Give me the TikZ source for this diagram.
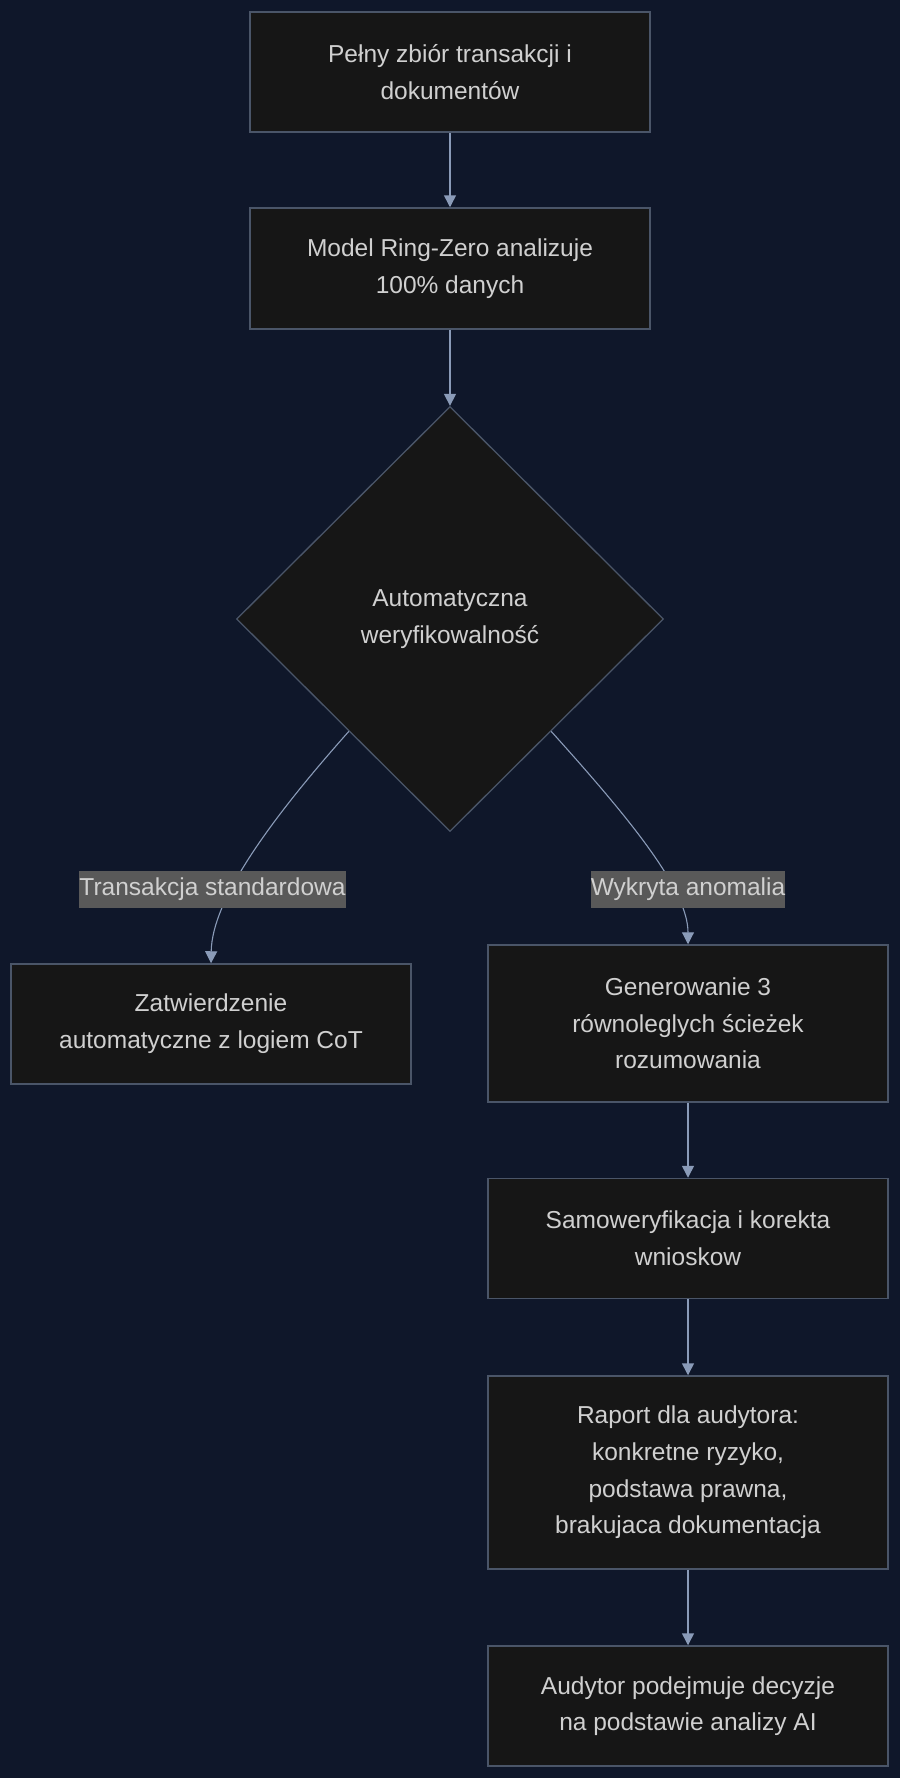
\documentclass[tikz,border=0pt]{standalone}
\usepackage{fontspec}
\setmainfont{Liberation Sans}
\usetikzlibrary{shapes.geometric}
\usetikzlibrary{arrows.meta}
\definecolor{bgnavy}{RGB}{15,23,42}
\definecolor{boxfill}{RGB}{22,22,22}
\definecolor{boxline}{RGB}{74,85,104}
\definecolor{txtgray}{RGB}{208,208,208}
\definecolor{arrowgray}{RGB}{138,155,184}
\definecolor{labelfill}{RGB}{89,89,89}

\begin{document}
\begin{tikzpicture}[x=1pt,y=-1pt,font=\fontsize{24.5}{36.7}\selectfont,
  box/.style={draw=boxline,fill=boxfill,line width=1.5pt,minimum width=400pt,inner sep=0pt,align=center,text=txtgray},
  decision/.style={diamond,draw=boxline,fill=boxfill,line width=1.3pt,minimum width=427pt,minimum height=425pt,inner sep=0pt,align=center,text=txtgray},
  edgelabel/.style={fill=labelfill,text=txtgray,inner sep=0pt,minimum height=37pt},
  flow/.style={draw=arrowgray,line width=1.5pt,-{Triangle[length=12pt,width=12pt]}}]
\fill [bgnavy] (0,0) rectangle (900,1778);

\node [box,minimum height=120pt] (full) at (450,72) {Pełny zbiór transakcji i\\dokumentów};
\node [box,minimum height=121pt] (model) at (450,268.5) {Model Ring-Zero analizuje\\100\% danych};
\node [decision] (dec) at (450,619) {Automatyczna\\weryfikowalność};
\node [box,minimum height=120pt] (okbox) at (211,1024) {Zatwierdzenie\\automatyczne z logiem CoT};
\node [box,minimum height=157pt] (gen) at (688,1023.5) {Generowanie 3\\równoleglych ścieżek\\rozumowania};
\node [box,minimum height=120pt] (selfchk) at (688,1238.5) {Samoweryfikacja i korekta\\wnioskow};
\node [box,minimum height=193pt] (report) at (688,1472.5) {Raport dla audytora:\\konkretne ryzyko,\\podstawa prawna,\\brakujaca dokumentacja};
\node [box,minimum height=120pt] (decide) at (688,1706) {Audytor podejmuje decyzje\\na podstawie analizy AI};

\draw [flow] (full) -- (model);
\draw [flow] (model) -- (dec);
\draw [flow,line width=1.1pt] (dec.228) .. controls (270,820) and (212,900) .. (okbox.north);
\draw [flow,line width=1.1pt] (dec.312) .. controls (631,820) and (688,890) .. (gen.north);
\draw [flow] (gen) -- (selfchk);
\draw [flow] (selfchk) -- (report);
\draw [flow] (report) -- (decide);

%\node at (450,900) {labels};
\node [edgelabel] (stdlbl) at (212.5,889.5) {Transakcja standardowa};
\node [edgelabel] (anomlbl) at (688,889.5) {Wykryta anomalia};

\end{tikzpicture}
\end{document}
